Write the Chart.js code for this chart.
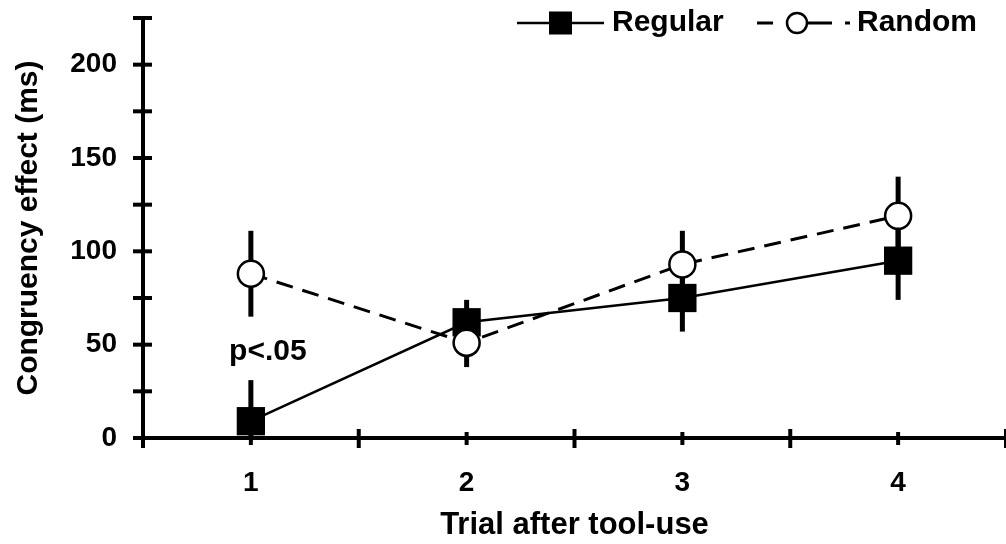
<!DOCTYPE html>
<html>

<head>
    <script src="https://cdn.jsdelivr.net/npm/chart.js@4/dist/chart.umd.min.js"></script>
    <style>
        body { margin: 0; background: #fff; }
    </style>
</head>

<body>
    <canvas id="congruency" width="1006" height="544"></canvas>
    <script>
        // values
        var trials = ['1', '2', '3', '4'];
        var regular = [9, 62, 75, 95];
        var regularErr = [22, 12, 18, 21];
        var random = [88, 51, 93, 119];
        var randomErr = [23, 13, 18, 21];
        var yLabelTicks = [0, 50, 100, 150, 200];
        var yMax = 225;
        var note = 'p<.05';
        var noteTrial = 0;
        var noteValue = 46;

        var family = '"Liberation Sans", Arial, Helvetica, sans-serif';

        // vertical SE bars, drawn under lines and markers
        var errorBars = {
            id: 'errorBars',
            beforeDatasetsDraw: function (chart) {
                var ctx = chart.ctx, x = chart.scales.x, y = chart.scales.y, a = chart.chartArea;
                ctx.save();
                ctx.beginPath();
                ctx.rect(a.left, a.top, a.right - a.left, a.bottom - a.top);
                ctx.clip();
                ctx.strokeStyle = '#000';
                ctx.lineWidth = 5;
                chart.data.datasets.forEach(function (ds) {
                    ds.errors.forEach(function (e, i) {
                        var px = x.getPixelForValue(i);
                        ctx.beginPath();
                        ctx.moveTo(px, y.getPixelForValue(ds.data[i] + e));
                        ctx.lineTo(px, y.getPixelForValue(ds.data[i] - e));
                        ctx.stroke();
                    });
                });
                ctx.restore();
            }
        };

        // tick marks that cross the axis lines
        var axisTicks = {
            id: 'axisTicks',
            beforeDatasetsDraw: function (chart) {
                var ctx = chart.ctx, x = chart.scales.x, y = chart.scales.y, a = chart.chartArea;
                ctx.save();
                ctx.strokeStyle = '#000';
                ctx.lineWidth = 4;
                y.ticks.forEach(function (t) {
                    var py = y.getPixelForValue(t.value);
                    ctx.beginPath();
                    ctx.moveTo(a.left - 10, py);
                    ctx.lineTo(a.left + 9, py);
                    ctx.stroke();
                });
                var n = trials.length, step = (a.right - a.left) / n;
                for (var i = 0; i <= n; i++) {
                    var bx = a.left + i * step;
                    ctx.beginPath();
                    ctx.moveTo(bx, a.bottom - 9);
                    ctx.lineTo(bx, a.bottom + 10);
                    ctx.stroke();
                }
                for (var j = 0; j < n; j++) {
                    var cx = x.getPixelForValue(j);
                    ctx.beginPath();
                    ctx.moveTo(cx, a.bottom - 6);
                    ctx.lineTo(cx, a.bottom + 7);
                    ctx.stroke();
                }
                ctx.restore();
            }
        };

        var noteLabel = {
            id: 'noteLabel',
            afterDatasetsDraw: function (chart) {
                var ctx = chart.ctx, x = chart.scales.x, y = chart.scales.y;
                ctx.save();
                ctx.fillStyle = '#000';
                ctx.font = 'bold 30px ' + family;
                ctx.textAlign = 'center';
                ctx.textBaseline = 'middle';
                ctx.fillText(note, x.getPixelForValue(noteTrial) + 17, y.getPixelForValue(noteValue));
                ctx.restore();
            }
        };

        // legend with line + marker samples, top right
        var lineLegend = {
            id: 'lineLegend',
            afterDraw: function (chart) {
                var ctx = chart.ctx, ds = chart.data.datasets, ly = 23;
                ctx.save();
                ctx.strokeStyle = '#000';
                ctx.fillStyle = '#000';
                ctx.lineWidth = 2.5;
                ctx.beginPath();
                ctx.moveTo(517, ly);
                ctx.lineTo(604, ly);
                ctx.stroke();
                ctx.fillRect(549, ly - 11.5, 23, 23);

                ctx.lineWidth = 3;
                ctx.beginPath();
                ctx.moveTo(757, ly); ctx.lineTo(773, ly);
                ctx.moveTo(806, ly); ctx.lineTo(832, ly);
                ctx.moveTo(845, ly); ctx.lineTo(850, ly);
                ctx.stroke();
                ctx.beginPath();
                ctx.arc(797, ly, 10, 0, Math.PI * 2);
                ctx.fillStyle = '#fff';
                ctx.fill();
                ctx.lineWidth = 2.5;
                ctx.stroke();

                ctx.fillStyle = '#000';
                ctx.font = 'bold 30px ' + family;
                ctx.textBaseline = 'middle';
                ctx.textAlign = 'left';
                ctx.fillText(ds[0].label, 612, ly);
                ctx.fillText(ds[1].label, 857, ly);
                ctx.restore();
            }
        };

        function noPadding(s) {
            s.paddingTop = 0;
            s.paddingBottom = 0;
            s.paddingLeft = 0;
            s.paddingRight = 0;
        }

        new Chart(document.getElementById('congruency').getContext('2d'), {
            type: 'line',
            data: {
                labels: trials,
                datasets: [{
                    label: 'Regular',
                    data: regular,
                    errors: regularErr,
                    borderColor: '#000',
                    backgroundColor: '#000',
                    borderWidth: 2.5,
                    pointStyle: 'rect',
                    pointRadius: 20,
                    pointBackgroundColor: '#000',
                    pointBorderWidth: 0,
                    order: 2,
                    clip: false
                }, {
                    label: 'Random',
                    data: random,
                    errors: randomErr,
                    borderColor: '#000',
                    backgroundColor: '#fff',
                    borderWidth: 3,
                    borderDash: [17, 10],
                    pointStyle: 'circle',
                    pointRadius: 13,
                    pointBackgroundColor: '#fff',
                    pointBorderColor: '#000',
                    pointBorderWidth: 2.5,
                    order: 1,
                    clip: false
                }]
            },
            options: {
                responsive: false,
                animation: false,
                devicePixelRatio: 1,
                layout: {
                    autoPadding: false,
                    padding: { top: 18, right: 0, bottom: 0, left: 0 }
                },
                plugins: {
                    legend: { display: false },
                    tooltip: { enabled: false }
                },
                scales: {
                    x: {
                        offset: true,
                        afterFit: function (s) { s.height = 106; noPadding(s); },
                        border: { color: '#000', width: 4 },
                        grid: { display: false, drawTicks: false },
                        ticks: {
                            padding: 28,
                            color: '#000',
                            font: { family: family, size: 28, weight: 'bold' }
                        },
                        title: {
                            display: true,
                            text: 'Trial after tool-use',
                            color: '#000',
                            font: { family: family, size: 31, weight: 'bold' },
                            padding: { top: 0, bottom: 0 }
                        }
                    },
                    y: {
                        min: 0,
                        max: yMax,
                        afterFit: function (s) { s.width = 143; noPadding(s); },
                        border: { color: '#000', width: 4 },
                        grid: { display: false, drawTicks: false },
                        ticks: {
                            stepSize: 25,
                            padding: 26,
                            color: '#000',
                            font: { family: family, size: 28, weight: 'bold' },
                            callback: function (v) { return yLabelTicks.indexOf(v) >= 0 ? v : ''; }
                        },
                        title: {
                            display: true,
                            text: 'Congruency effect (ms)',
                            color: '#000',
                            font: { family: family, size: 30, weight: 'bold' },
                            padding: { top: 11, bottom: 0 }
                        }
                    }
                }
            },
            plugins: [axisTicks, errorBars, noteLabel, lineLegend]
        });
    </script>
</body>

</html>
